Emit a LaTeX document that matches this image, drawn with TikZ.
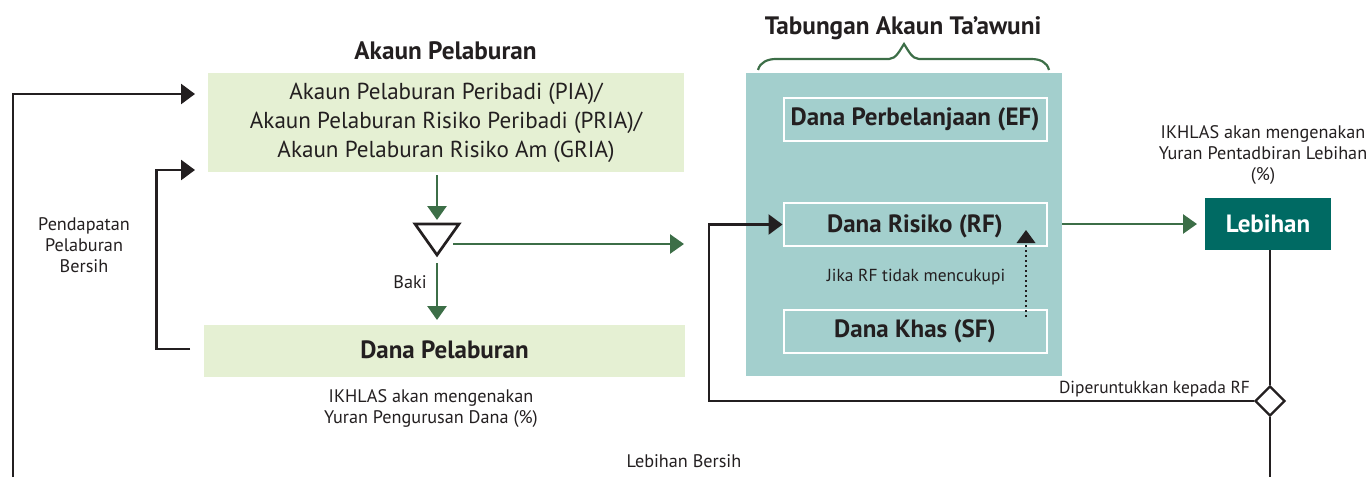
\documentclass[tikz,border=0pt]{standalone}
\usepackage{fontspec}
\setmainfont{PT Sans}
\usetikzlibrary{arrows.meta,shapes.geometric}
\definecolor{lightgreen}{HTML}{E5F0D3}
\definecolor{tealbox}{HTML}{A3CFCD}
\definecolor{darkteal}{HTML}{006A63}
\definecolor{flowgreen}{HTML}{3C6E47}
\definecolor{ink}{HTML}{231F20}
\tikzset{
  x=1pt,y=-1pt,
  every node/.style={text=ink,inner sep=0pt,align=center},
  lightbox/.style={fill=lightgreen,anchor=center},
  fundbox/.style={draw=white,line width=2pt,minimum width=263pt,minimum height=43pt},
  fundtext/.style={font=\fontsize{25}{30}\selectfont\bfseries},
  title/.style={font=\fontsize{25.2}{30}\selectfont\bfseries},
  body/.style={font=\fontsize{23.1}{29}\selectfont},
  small/.style={font=\fontsize{18.2}{21}\selectfont},
  tiny/.style={font=\fontsize{17.4}{21}\selectfont},
  blackflow/.style={draw=ink,line width=2.7pt,-{Triangle[length=14pt,width=20pt]}},
  blackline/.style={draw=ink,line width=2.7pt},
  greenflow/.style={draw=flowgreen,line width=2.7pt,-{Triangle[length=14pt,width=19pt]}},
}
\begin{document}
\begin{tikzpicture}
\useasboundingbox (0,0) rectangle (1372,477);
% boxes
\node[lightbox,minimum width=476pt,minimum height=99pt] (pia) at (446,122.5) {};
\node[body] (pialabel) at (446,122.5)
  {Akaun Pelaburan Peribadi (PIA)/\\Akaun Pelaburan Risiko Peribadi (PRIA)/\\Akaun Pelaburan Risiko Am (GRIA)};
\node[lightbox,minimum width=481pt,minimum height=52pt] (dp) at (444.5,351) {};
\node[fundtext] (dplabel) at (444.5,350) {Dana Pelaburan};
\node[fill=tealbox,minimum width=316pt,minimum height=303pt] (tab) at (904,224.5) {};
\node[fundbox] (ef) at (915,119) {};
\node[fundbox] (rf) at (915,224.5) {};
\node[fundbox] (sf) at (915,331) {};
\node[fundtext] (eflabel) at (915,119) {Dana Perbelanjaan (EF)};
\node[fundtext] (rflabel) at (915,226) {Dana Risiko (RF)};
\node[fundtext] (sflabel) at (915,331) {Dana Khas (SF)};
\node[fill=darkteal,minimum width=126pt,minimum height=52pt,text=white,font=\fontsize{25}{30}\selectfont\bfseries] (leb) at (1268,224) {Lebihan};
% titles and labels
\node[title] (t1) at (445.5,51) {Akaun Pelaburan};
\node[title] (t2) at (903,28) {Tabungan Akaun Ta’awuni};
\node[small] (pend) at (84,245) {Pendapatan\\Pelaburan\\Bersih};
\node[small] (baki) at (410,282) {Baki};
\node[small] (yp) at (431,409) {IKHLAS akan mengenakan\\Yuran Pengurusan Dana (\%)};
\node[small] (lb) at (684,461) {Lebihan Bersih};
\node[tiny] (jika) at (916,277) {Jika RF tidak mencukupi};
\node[tiny] (dip) at (1154.5,389) {Diperuntukkan kepada RF};
\node[small] (yl) at (1263,155.5) {IKHLAS akan mengenakan\\Yuran Pentadbiran Lebihan\\(\%)};
% junctions
\node[draw=ink,line width=2.7pt,fill=white,isosceles triangle,isosceles triangle stretches,shape border rotate=-90,minimum width=44pt,minimum height=31pt,anchor=apex] (tri) at (437,258.5) {};
\node[draw=ink,line width=2.4pt,fill=white,diamond,aspect=1,minimum size=30pt] (div) at (1270,401) {};
% free ends
\coordinate (leftend) at (13,477);
\coordinate (rightend) at (1270,477);
\coordinate (inA) at (208,94);
\coordinate (inB) at (208,170);
\coordinate (outdp) at (190,349);
\coordinate (bend) at (156.5,349);
\coordinate (teeL) at (453,244);
\coordinate (teeR) at (684,244);
\coordinate (turn) at (709,401);
\coordinate (dotS) at (1026,317);
\coordinate (dotN) at (1026,230);
\coordinate (greenS) at (437,175);
\coordinate (greenN) at (437,220);
\coordinate (greenD) at (437,263);
\coordinate (greenE) at (437,320);
\coordinate (tabout) at (1062,224);
\coordinate (lebin) at (1197,224);
% connectors
\draw[blackflow,shorten >=13pt] (leftend) |- (inA);
\draw[blackflow,shorten >=13pt] (outdp) -- (bend) |- (inB);
\draw[greenflow] (greenS) -- (greenN);
\draw[greenflow] (greenD) -- (greenE);
\draw[greenflow] (teeL) -- (teeR);
\draw[greenflow] (tabout) -- (lebin);
\draw[blackline] (leb.south -| div) -- (div.north);
\draw[blackline] (div.south) -- (rightend);
\draw[blackflow] (div.west) -- (turn) |- (rf.west);
\draw[draw=ink,line width=2pt,dash pattern=on 2pt off 3pt] (dotS) -- ([yshift=-10pt]dotN);
\draw[draw=none,fill=ink] (dotN) -- ++(-9.5,13) -- ++(19,0) -- cycle;
% brace
\draw[flowgreen,line width=2.2pt] (758,70) .. controls (760,62) and (768,59) .. (776,59) -- (889,59)
  .. controls (896,59) and (900,50) .. (904,44) .. controls (908,50) and (912,59) .. (919,59) -- (1031,59)
  .. controls (1040,59) and (1047,62) .. (1049,70);
\end{tikzpicture}
\end{document}
